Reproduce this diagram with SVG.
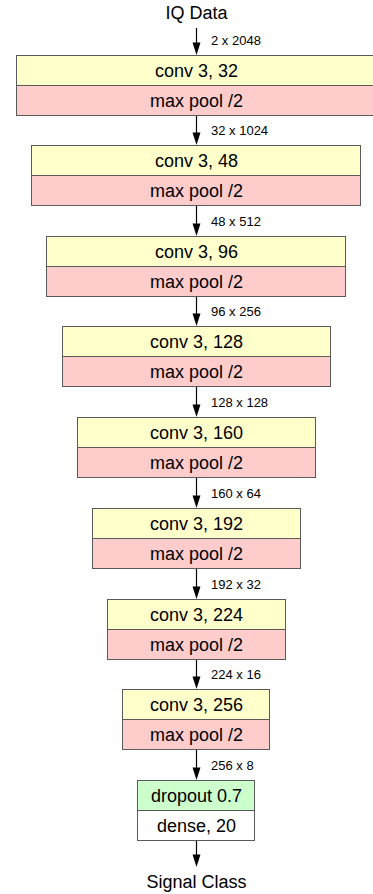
<svg xmlns="http://www.w3.org/2000/svg" width="373" height="894" viewBox="0 0 373 894">
<defs>
<style>
.t{font-family:"Liberation Sans",Arial,sans-serif;font-size:18px;fill:#000;text-anchor:middle}
.l{font-family:"Liberation Sans",Arial,sans-serif;font-size:13px;fill:#000}
.cv{fill:#ffffcc;stroke:#5a5a5a;stroke-width:1}
.mp{fill:#ffcccc;stroke:#5a5a5a;stroke-width:1}
.dr{fill:#ccffcc;stroke:#5a5a5a;stroke-width:1}
.dn{fill:#ffffff;stroke:#5a5a5a;stroke-width:1}
.e{stroke:#000;stroke-width:1.2;fill:none}
</style>
<marker id="ah" viewBox="0 0 8 12.5" refX="8" refY="4" markerWidth="8" markerHeight="12.5" markerUnits="userSpaceOnUse" orient="auto">
<path d="M0,0 L8,4 L0,8 z" fill="#000" transform="matrix(1.5625,0,0,1,0,0)"/>
</marker>
</defs>
<rect width="373" height="894" fill="#fff"/>
<g id="input"><text class="t" x="196.5" y="19">IQ Data</text></g>
<g id="output"><text class="t" x="196.5" y="888">Signal Class</text></g>
<g id="connectors">
<path class="e" d="M196.5,28 V43"/><polygon points="192.5,42.5 200.5,42.5 196.5,55" fill="#000"/>
<text class="l" x="211" y="45">2 x 2048</text>
<path class="e" d="M196.5,115.5 V133"/><polygon points="192.5,132.5 200.5,132.5 196.5,145" fill="#000"/>
<text class="l" x="211" y="135">32 x 1024</text>
<path class="e" d="M196.5,205.5 V224"/><polygon points="192.5,223.5 200.5,223.5 196.5,236" fill="#000"/>
<text class="l" x="211" y="226">48 x 512</text>
<path class="e" d="M196.5,296.5 V314"/><polygon points="192.5,313.5 200.5,313.5 196.5,326" fill="#000"/>
<text class="l" x="211" y="316">96 x 256</text>
<path class="e" d="M196.5,386.5 V405"/><polygon points="192.5,404.5 200.5,404.5 196.5,417" fill="#000"/>
<text class="l" x="211" y="407">128 x 128</text>
<path class="e" d="M196.5,477.5 V496"/><polygon points="192.5,495.5 200.5,495.5 196.5,508" fill="#000"/>
<text class="l" x="211" y="498">160 x 64</text>
<path class="e" d="M196.5,568.5 V587"/><polygon points="192.5,586.5 200.5,586.5 196.5,599" fill="#000"/>
<text class="l" x="211" y="589">192 x 32</text>
<path class="e" d="M196.5,659.5 V677"/><polygon points="192.5,676.5 200.5,676.5 196.5,689" fill="#000"/>
<text class="l" x="211" y="679">224 x 16</text>
<path class="e" d="M196.5,749.5 V768"/><polygon points="192.5,767.5 200.5,767.5 196.5,780" fill="#000"/>
<text class="l" x="211" y="770">256 x 8</text>
<path class="e" d="M196.5,840.5 V855"/><polygon points="192.5,854.5 200.5,854.5 196.5,867" fill="#000"/>
</g>
<g id="block1">
<rect class="cv" x="16.5" y="55.5" width="360" height="30"/><rect class="mp" x="16.5" y="85.5" width="360" height="30"/>
<text class="t" x="196.5" y="77">conv 3, 32</text><text class="t" x="196.5" y="107">max pool /2</text>
</g>
<g id="block2">
<rect class="cv" x="31.5" y="145.5" width="329" height="30"/><rect class="mp" x="31.5" y="175.5" width="329" height="30"/>
<text class="t" x="196.5" y="167">conv 3, 48</text><text class="t" x="196.5" y="197">max pool /2</text>
</g>
<g id="block3">
<rect class="cv" x="46.5" y="236.5" width="299" height="30"/><rect class="mp" x="46.5" y="266.5" width="299" height="30"/>
<text class="t" x="196.5" y="258">conv 3, 96</text><text class="t" x="196.5" y="288">max pool /2</text>
</g>
<g id="block4">
<rect class="cv" x="62.5" y="326.5" width="268" height="30"/><rect class="mp" x="62.5" y="356.5" width="268" height="30"/>
<text class="t" x="196.5" y="348">conv 3, 128</text><text class="t" x="196.5" y="378">max pool /2</text>
</g>
<g id="block5">
<rect class="cv" x="77.5" y="417.5" width="238" height="30"/><rect class="mp" x="77.5" y="447.5" width="238" height="30"/>
<text class="t" x="196.5" y="439">conv 3, 160</text><text class="t" x="196.5" y="469">max pool /2</text>
</g>
<g id="block6">
<rect class="cv" x="92.5" y="508.5" width="208" height="30"/><rect class="mp" x="92.5" y="538.5" width="208" height="30"/>
<text class="t" x="196.5" y="530">conv 3, 192</text><text class="t" x="196.5" y="560">max pool /2</text>
</g>
<g id="block7">
<rect class="cv" x="107.5" y="599.5" width="178" height="30"/><rect class="mp" x="107.5" y="629.5" width="178" height="30"/>
<text class="t" x="196.5" y="621">conv 3, 224</text><text class="t" x="196.5" y="651">max pool /2</text>
</g>
<g id="block8">
<rect class="cv" x="122.5" y="689.5" width="147" height="30"/><rect class="mp" x="122.5" y="719.5" width="147" height="30"/>
<text class="t" x="196.5" y="711">conv 3, 256</text><text class="t" x="196.5" y="741">max pool /2</text>
</g>
<g id="block9">
<rect class="dr" x="137.5" y="780.5" width="117" height="30"/><rect class="dn" x="137.5" y="810.5" width="117" height="30"/>
<text class="t" x="196.5" y="802">dropout 0.7</text><text class="t" x="196.5" y="832">dense, 20</text>
</g>
</svg>
